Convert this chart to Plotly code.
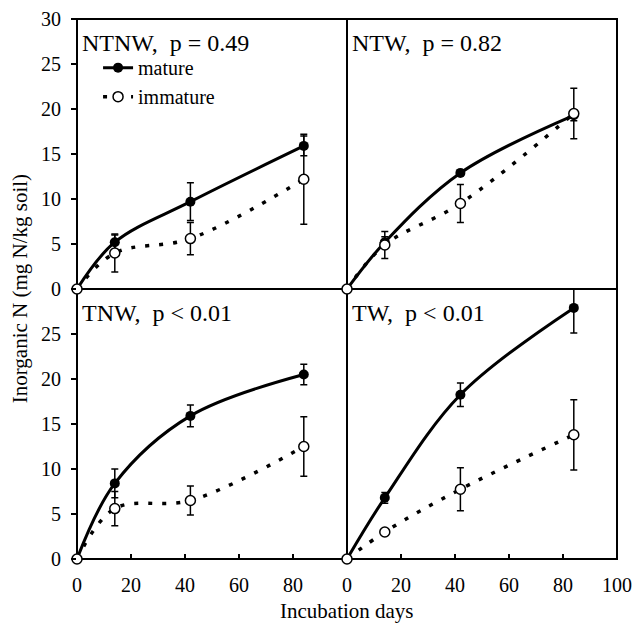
import plotly.graph_objects as go
from plotly.subplots import make_subplots

days = [0, 14, 42, 84]
panel_names = ["NTNW", "NTW", "TNW", "TW"]
panel_p = ["p = 0.49", "p = 0.82", "p < 0.01", "p < 0.01"]

ntnw_mature = [0, 5.2, 9.7, 15.9]
ntnw_mature_err = [0, 0.8, 2.1, 1.1]
ntnw_immature = [0, 4.0, 5.6, 12.2]
ntnw_immature_err = [0, 2.1, 1.8, 5.0]

ntw_mature = [0, 5.2, 12.9, 19.3]
ntw_mature_err = [0, 0.6, 0.3, 0.6]
ntw_immature = [0, 4.9, 9.5, 19.5]
ntw_immature_err = [0, 1.5, 2.1, 2.8]

tnw_mature = [0, 8.4, 15.9, 20.5]
tnw_mature_err = [0, 1.6, 1.2, 1.15]
tnw_immature = [0, 5.6, 6.5, 12.5]
tnw_immature_err = [0, 1.9, 1.6, 3.3]

tw_mature = [0, 6.8, 18.25, 27.9]
tw_mature_err = [0, 0.6, 1.3, 2.8]
tw_immature = [0, 3.0, 7.75, 13.8]
tw_immature_err = [0, 0.2, 2.4, 3.9]

x_ticks_left = [0, 20, 40, 60, 80]
x_ticks_right = [0, 20, 40, 60, 80, 100]
y_ticks_top = [0, 5, 10, 15, 20, 25, 30]
y_ticks_bottom = [0, 5, 10, 15, 20, 25]

mature_sets = [(ntnw_mature, ntnw_mature_err), (ntw_mature, ntw_mature_err),
               (tnw_mature, tnw_mature_err), (tw_mature, tw_mature_err)]
immature_sets = [(ntnw_immature, ntnw_immature_err), (ntw_immature, ntw_immature_err),
                 (tnw_immature, tnw_immature_err), (tw_immature, tw_immature_err)]

FONT = "Liberation Serif"
fig = make_subplots(rows=2, cols=2, horizontal_spacing=0, vertical_spacing=0)
positions = [(1, 1), (1, 2), (2, 1), (2, 2)]

for i, (r, c) in enumerate(positions):
    my, me = mature_sets[i]
    iy, ie = immature_sets[i]
    fig.add_trace(go.Scatter(
        x=days, y=my, mode="lines+markers", name="mature",
        showlegend=(i == 0), cliponaxis=False,
        line=dict(color="black", width=3, shape="spline"),
        marker=dict(symbol="circle", size=10, color="black"),
        error_y=dict(type="data", array=me, color="black", thickness=1.5, width=3.5),
    ), row=r, col=c)
    fig.add_trace(go.Scatter(
        x=days, y=iy, mode="lines+markers", name="immature",
        showlegend=(i == 0), cliponaxis=False,
        line=dict(color="black", width=3.5, shape="spline", dash="4px,10px"),
        marker=dict(symbol="circle", size=10, color="white",
                    line=dict(color="black", width=1.5)),
        error_y=dict(type="data", array=ie, color="black", thickness=1.5, width=3.5),
    ), row=r, col=c)

tickfont = dict(family=FONT, size=20, color="black")
x_common = dict(range=[0, 100], showgrid=False, zeroline=False, showline=False,
                tickfont=tickfont, automargin=False)
y_common = dict(range=[0, 30], showgrid=False, zeroline=False, showline=False,
                tickfont=tickfont, automargin=False)

fig.update_xaxes(**x_common, showticklabels=False, ticks="", row=1, col=1)
fig.update_xaxes(**x_common, showticklabels=False, ticks="", row=1, col=2)
fig.update_xaxes(**x_common, tickvals=x_ticks_left, ticks="inside", ticklen=5,
                 tickcolor="black", tickwidth=1.5, ticklabelstandoff=12, row=2, col=1)
fig.update_xaxes(**x_common, tickvals=x_ticks_right, ticks="inside", ticklen=5,
                 tickcolor="black", tickwidth=1.5, ticklabelstandoff=12, row=2, col=2)

fig.update_yaxes(**y_common, tickvals=y_ticks_top, ticks="outside", ticklen=5,
                 tickcolor="black", tickwidth=1.5, ticklabelstandoff=6, row=1, col=1)
fig.update_yaxes(**y_common, tickvals=y_ticks_bottom, ticks="outside", ticklen=5,
                 tickcolor="black", tickwidth=1.5, ticklabelstandoff=6, row=2, col=1)
fig.update_yaxes(**y_common, showticklabels=False, ticks="", row=1, col=2)
fig.update_yaxes(**y_common, showticklabels=False, ticks="", row=2, col=2)

frame = dict(color="black", width=2)
shapes = [
    dict(type="rect", xref="paper", yref="paper", x0=0, x1=1, y0=0, y1=1,
         line=frame, layer="below"),
    dict(type="line", xref="paper", yref="paper", x0=0.5, x1=0.5, y0=0, y1=1,
         line=frame, layer="below"),
    dict(type="line", xref="paper", yref="paper", x0=0, x1=1, y0=0.5, y1=0.5,
         line=frame, layer="below"),
]

annotations = []
axis_ids = ["", "2", "3", "4"]
for i, aid in enumerate(axis_ids):
    annotations.append(dict(
        text=panel_names[i] + ",&nbsp;&nbsp;" + panel_p[i],
        xref="x" + aid + " domain", yref="y" + aid + " domain",
        x=0.012, y=0.91, xanchor="left", yanchor="middle", showarrow=False,
        font=dict(family=FONT, size=24, color="black")))

annotations.append(dict(text="Inorganic N (mg N/kg soil)", xref="paper", yref="paper",
                        x=-0.105, y=0.5, textangle=-90, showarrow=False,
                        xanchor="center", yanchor="middle",
                        font=dict(family=FONT, size=21, color="black")))
annotations.append(dict(text="Incubation days", xref="paper", yref="paper",
                        x=0.5, y=-0.096, showarrow=False, xanchor="center", yanchor="middle",
                        font=dict(family=FONT, size=21, color="black")))

fig.update_layout(
    width=635, height=632,
    margin=dict(l=77, r=18, t=19, b=73, autoexpand=False),
    paper_bgcolor="white", plot_bgcolor="rgba(0,0,0,0)",
    annotations=annotations, shapes=shapes,
    legend=dict(x=0.039, y=0.946, xanchor="left", yanchor="top",
                bgcolor="rgba(0,0,0,0)", font=dict(family=FONT, size=20, color="black"),
                tracegroupgap=0),
    font=dict(family=FONT, color="black"),
)

# remove the default page margin so the figure fills the window exactly
fig.write_html("out.html",
               config={"displayModeBar": False},
               post_script="document.body.style.margin='0';"
                           "document.body.style.overflow='hidden';")
